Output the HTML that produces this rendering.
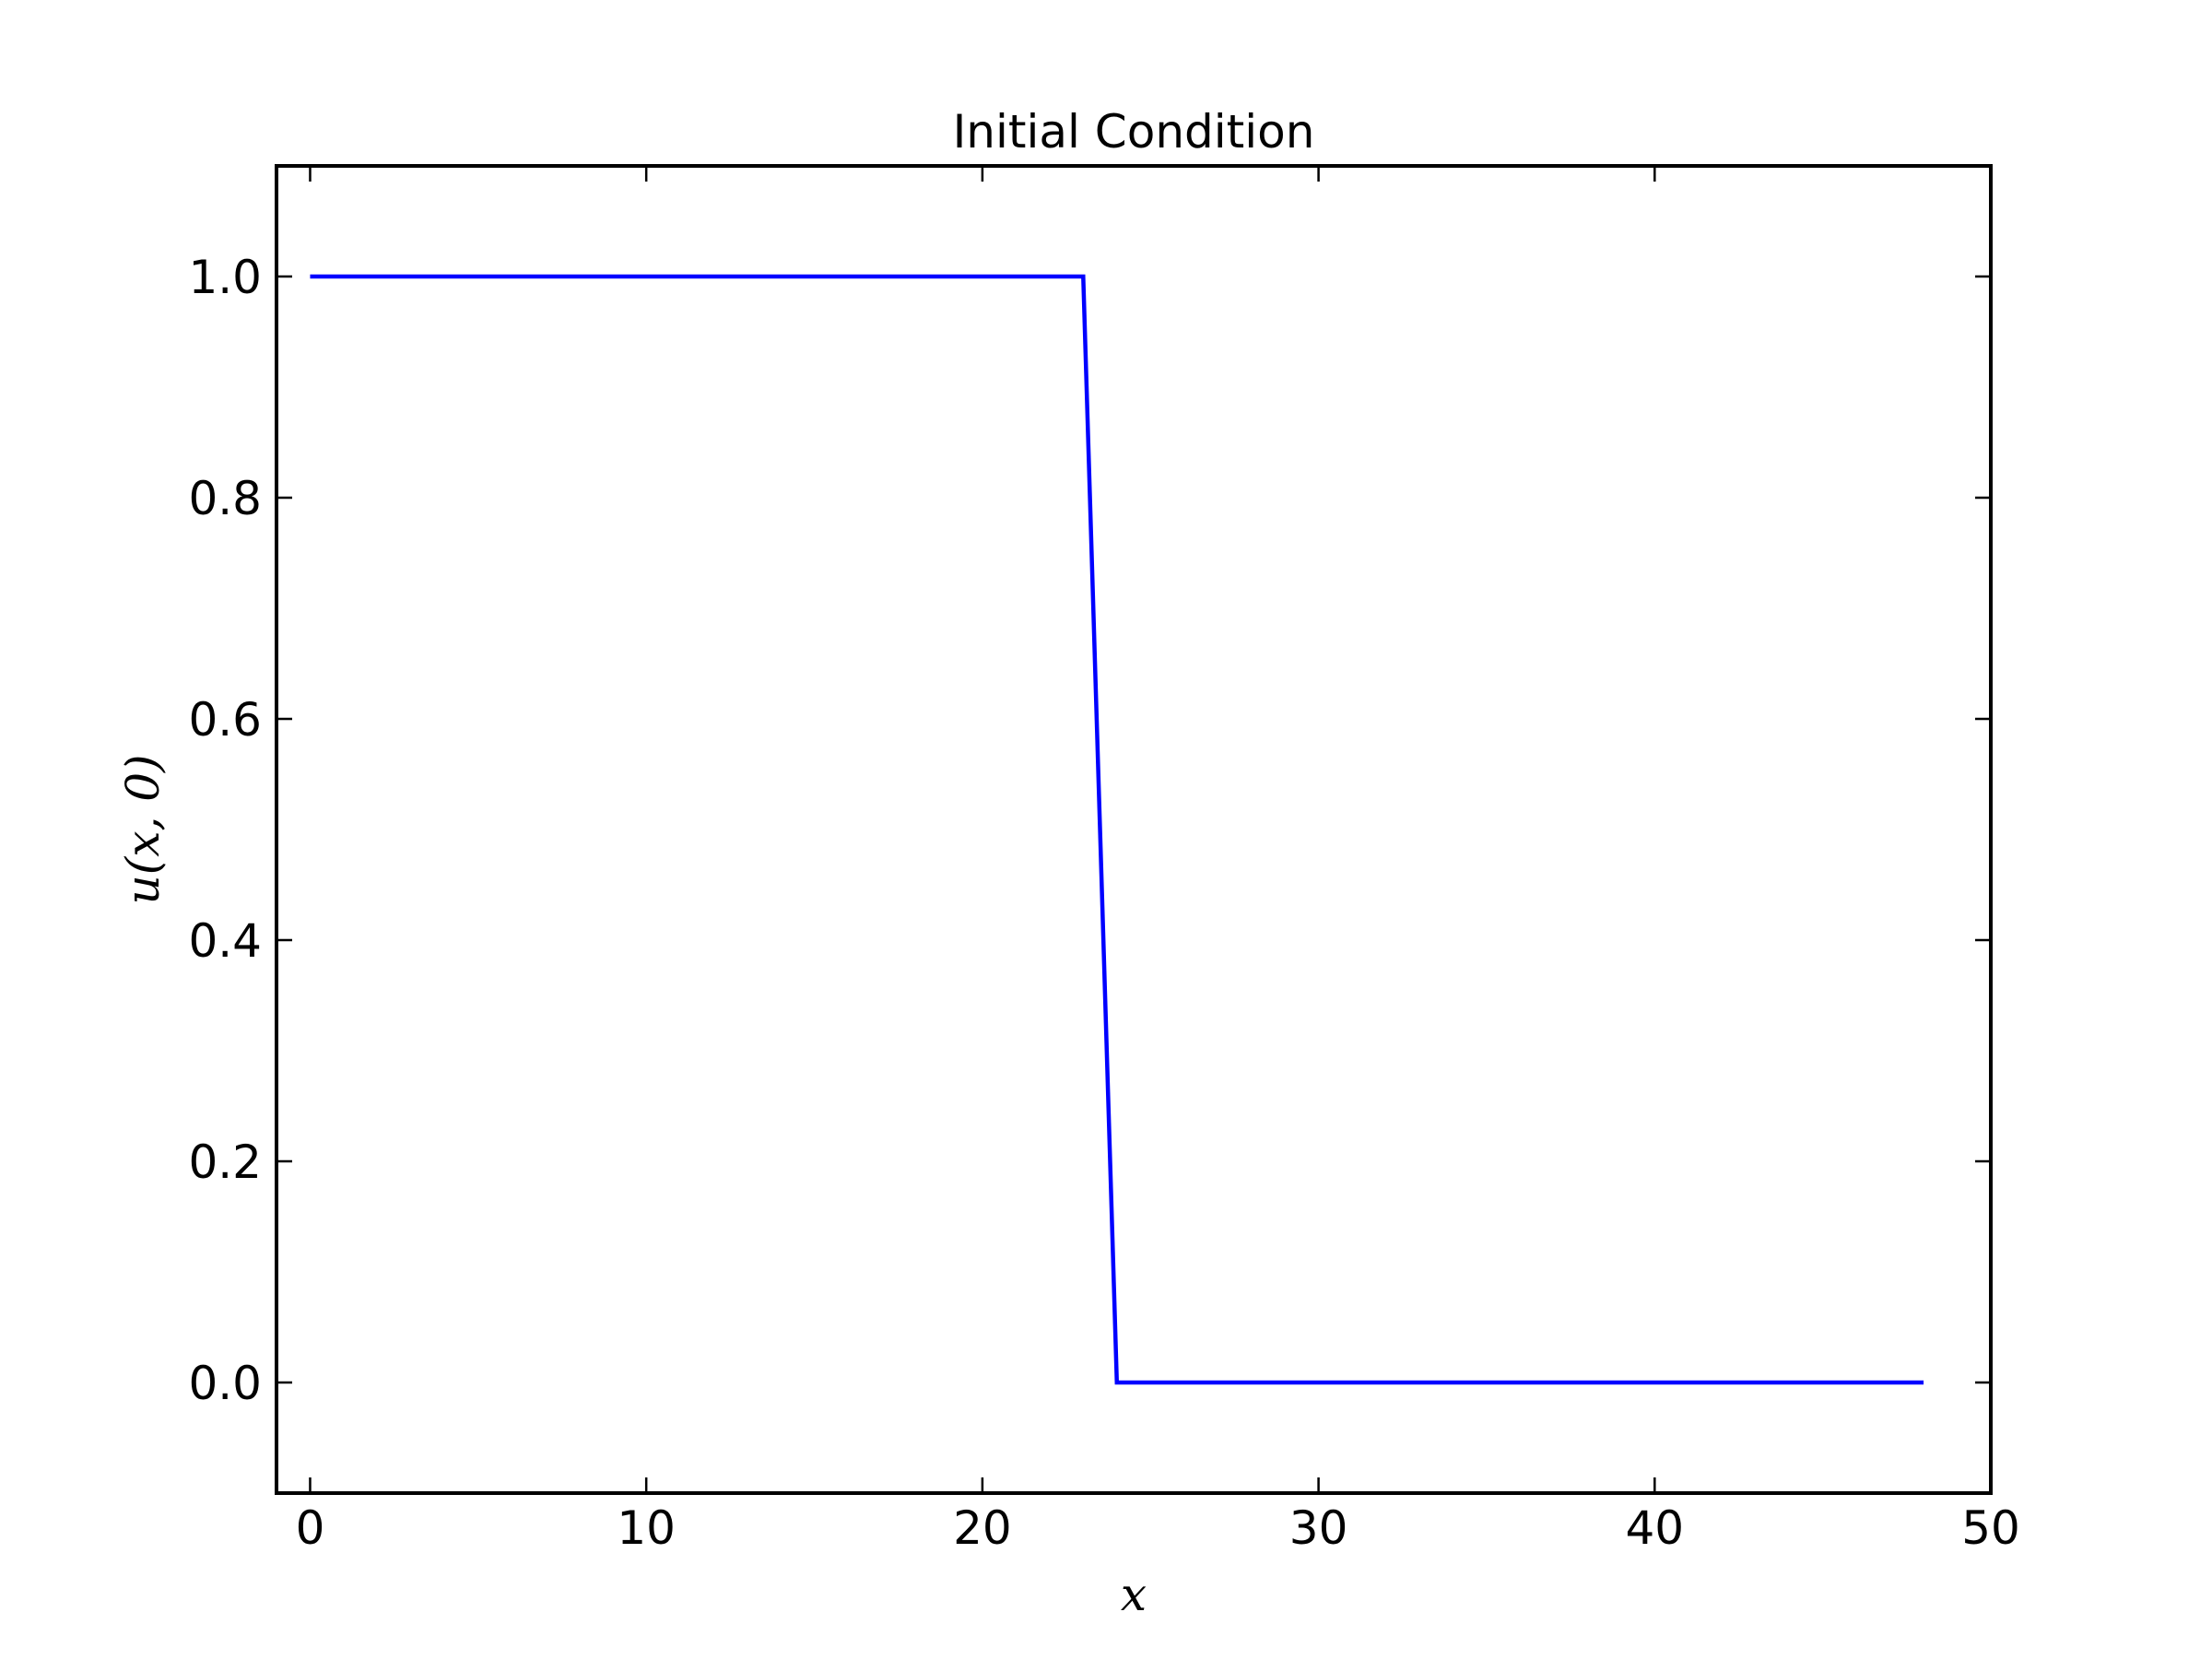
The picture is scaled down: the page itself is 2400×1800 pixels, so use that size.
<!DOCTYPE html>
<html><head><meta charset="utf-8"><style>body{margin:0;background:#fff}svg{display:block}</style></head>
<body>
<svg id="chart" width="2400" height="1800" viewBox="0 0 2400 1800" xmlns="http://www.w3.org/2000/svg" font-family="'DejaVu Sans','Liberation Sans',sans-serif">
<rect width="2400" height="1800" fill="#fff"/>
<text x="1230" y="160" font-size="50" text-anchor="middle">Initial Condition</text>
<g id="plot"></g>
<text x="1230" y="1747" font-size="50" font-style="italic" font-family="'DejaVu Serif','Liberation Serif',serif" text-anchor="middle">x</text>
<text transform="translate(172,900) rotate(-90)" font-size="50" font-style="italic" font-family="'DejaVu Serif','Liberation Serif',serif" text-anchor="middle">u(x, 0)</text>
</svg>
<script>
const xValues = [0,1,2,3,4,5,6,7,8,9,10,11,12,13,14,15,16,17,18,19,20,21,22,23,24,25,26,27,28,29,30,31,32,33,34,35,36,37,38,39,40,41,42,43,44,45,46,47,48];
const uValues = [1,1,1,1,1,1,1,1,1,1,1,1,1,1,1,1,1,1,1,1,1,1,1,1,0,0,0,0,0,0,0,0,0,0,0,0,0,0,0,0,0,0,0,0,0,0,0,0,0];
const xTicks = [0,10,20,30,40,50];
const yTicks = [0.0,0.2,0.4,0.6,0.8,1.0];
const yTickLabels = ["0.0","0.2","0.4","0.6","0.8","1.0"];

const L=300,R=2160,T=180,B=1620, xmin=-1,xmax=50,ymin=-0.1,ymax=1.1;
const sx=v=>L+(v-xmin)/(xmax-xmin)*(R-L);
const sy=v=>B-(v-ymin)/(ymax-ymin)*(B-T);
const NS='http://www.w3.org/2000/svg';
const g=document.getElementById('plot');
function mk(tag,attrs){const e=document.createElementNS(NS,tag);for(const k in attrs)e.setAttribute(k,attrs[k]);g.appendChild(e);return e;}

const d=xValues.map((x,i)=>(i?'L':'M')+sx(x)+','+sy(uValues[i])).join(' ');
const line=mk('path',{d:d,fill:'none',stroke:'#0000ff','stroke-width':4.5,'stroke-linejoin':'miter'});



xTicks.forEach(t=>{
  const x=sx(t);
  const tb=mk('line',{x1:x,x2:x,y1:B,y2:B-17,stroke:'#000','stroke-width':2.5});
  
  
  const tt=mk('line',{x1:x,x2:x,y1:T,y2:T+17,stroke:'#000','stroke-width':2.5});
  
  
  const lb=mk('text',{x:x,y:1675,'font-size':50,'text-anchor':'middle'});
  lb.textContent=String(t);
  
  
});
yTicks.forEach((t,i)=>{
  const y=sy(t);
  const tl=mk('line',{x1:L,x2:L+17,y1:y,y2:y,stroke:'#000','stroke-width':2.5});
  
  
  const tr=mk('line',{x1:R,x2:R-17,y1:y,y2:y,stroke:'#000','stroke-width':2.5});
  
  
  const lb=mk('text',{x:284,y:y+18,'font-size':50,'text-anchor':'end'});
  lb.textContent=yTickLabels[i];
  
  
});
const frame=mk('rect',{x:L,y:T,width:R-L,height:B-T,fill:'none',stroke:'#000','stroke-width':4});


</script>
</body></html>
